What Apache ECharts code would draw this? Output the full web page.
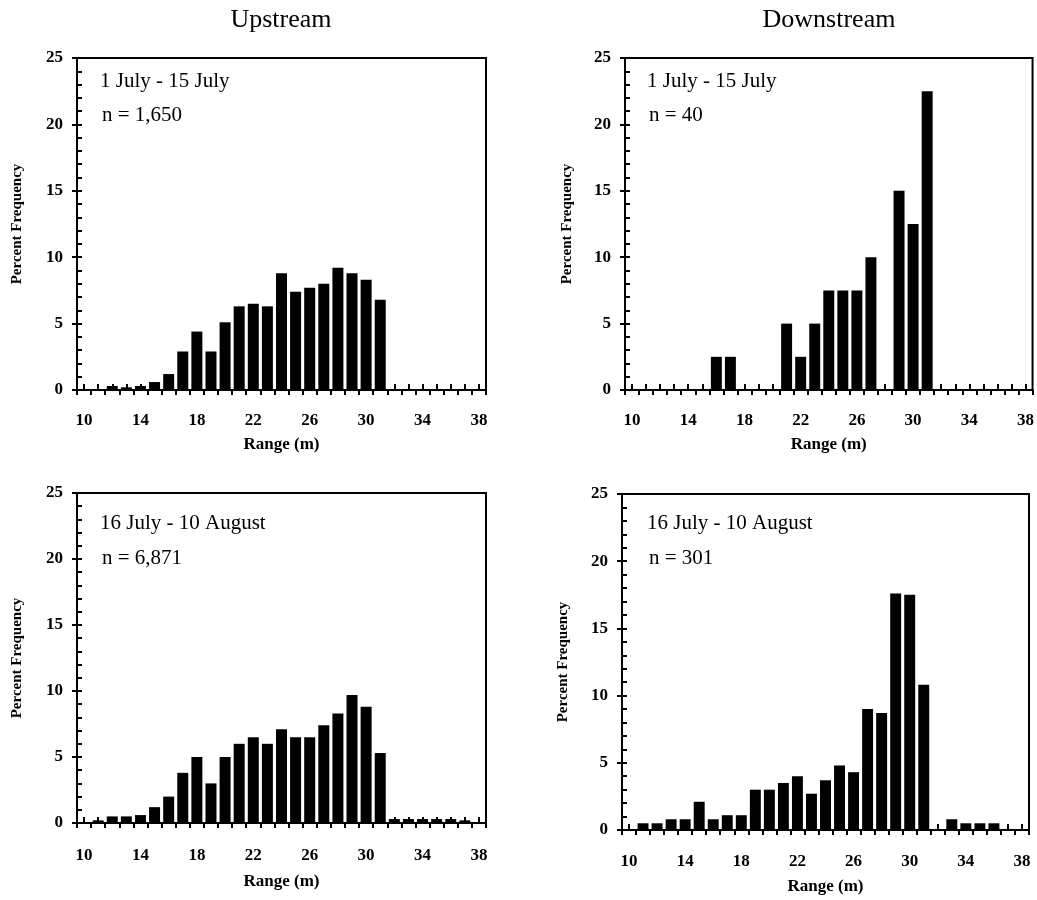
<!DOCTYPE html>
<html>
<head>
<meta charset="utf-8">
<script src="https://cdn.jsdelivr.net/npm/echarts@6/dist/echarts.min.js"></script>
<style>
html,body{margin:0;padding:0;background:#fff}
#c{width:1037px;height:900px}
</style>
</head>
<body>
<div id="c"></div>
<script>
// ---- data ----
const ranges = ['10','11','12','13','14','15','16','17','18','19','20','21','22','23','24','25','26','27','28','29','30','31','32','33','34','35','36','37','38'];
const columnTitles = ['Upstream', 'Downstream'];
const periods = ['1 July - 15 July', '1 July - 15 July', '16 July - 10 August', '16 July - 10 August'];
const sampleSizes = ['n = 1,650', 'n = 40', 'n = 6,871', 'n = 301'];
// percent frequency per 1 m range bin, 10..38
const upstreamEarly   = [null,null,0.3,0.2,0.3,0.6,1.2,2.9,4.4,2.9,5.1,6.3,6.5,6.3,8.8,7.4,7.7,8.0,9.2,8.8,8.3,6.8,null,null,null,null,null,null,null];
const downstreamEarly = [null,null,null,null,null,null,2.5,2.5,null,null,null,5,2.5,5,7.5,7.5,7.5,10,null,15,12.5,22.5,null,null,null,null,null,null,null];
const upstreamLate    = [null,0.2,0.5,0.5,0.6,1.2,2.0,3.8,5.0,3.0,5.0,6.0,6.5,6.0,7.1,6.5,6.5,7.4,8.3,9.7,8.8,5.3,0.3,0.3,0.3,0.3,0.3,0.2,null];
const downstreamLate  = [null,0.5,0.5,0.8,0.8,2.1,0.8,1.1,1.1,3.0,3.0,3.5,4.0,2.7,3.7,4.8,4.3,9.0,8.7,17.6,17.5,10.8,null,0.8,0.5,0.5,0.5,null,null];
const yMin = 0, yMax = 25, yStep = 5;

// ---- layout ----
const serif = '"Liberation Serif", "Times New Roman", serif';
const seriesData = [upstreamEarly, downstreamEarly, upstreamLate, downstreamLate];
const layouts = [
  {left: 77,  top: 58,  width: 409, height: 332, labelMargin: 22, nameGap: 46, yNameGap: 52, textX: 100, textY1: 81,  textY2: 115},
  {left: 625, top: 58,  width: 409, height: 332, labelMargin: 22, nameGap: 46, yNameGap: 50, textX: 647, textY1: 81,  textY2: 115},
  {left: 77,  top: 493, width: 409, height: 330, labelMargin: 24, nameGap: 50, yNameGap: 52, textX: 100, textY1: 523, textY2: 558},
  {left: 622, top: 494, width: 407, height: 336, labelMargin: 23, nameGap: 48, yNameGap: 51, textX: 647, textY1: 523, textY2: 558}
];

const grid = [], xAxis = [], yAxis = [], series = [], graphic = [];
const black = '#000';
layouts.forEach((L, i) => {
  grid.push({left: L.left, top: L.top, width: L.width, height: L.height, show: true,
             borderColor: black, borderWidth: 2, backgroundColor: 'transparent'});
  // main category axis: labels + inward ticks at bin centres
  xAxis.push({
    type: 'category', gridIndex: i, data: ranges, position: 'bottom', boundaryGap: true,
    axisLine: {show: true, lineStyle: {color: black, width: 2}},
    axisTick: {show: true, inside: true, alignWithLabel: true, interval: 0, length: 6, lineStyle: {color: black, width: 2}},
    axisLabel: {interval: 3, margin: L.labelMargin, color: black, fontFamily: serif, fontWeight: 'bold', fontSize: 17},
    splitLine: {show: false},
    name: 'Range (m)', nameLocation: 'middle', nameGap: L.nameGap,
    nameTextStyle: {color: black, fontFamily: serif, fontWeight: 'bold', fontSize: 17}
  });
  // helper axis: outward ticks at bin edges
  xAxis.push({
    type: 'category', gridIndex: i, data: ranges, position: 'bottom', boundaryGap: true,
    axisLine: {show: false},
    axisTick: {show: true, inside: false, interval: 0, length: 5, lineStyle: {color: black, width: 2}},
    axisLabel: {show: false}, splitLine: {show: false}
  });
  yAxis.push({
    type: 'value', gridIndex: i, min: yMin, max: yMax, interval: yStep, position: 'left',
    axisLine: {show: true, lineStyle: {color: black, width: 2}},
    axisTick: {show: true, inside: true, length: 5, lineStyle: {color: black, width: 2}},
    minorTick: {show: true, splitNumber: 5, length: 5, lineStyle: {color: black, width: 2}},
    axisLabel: {margin: 14, color: black, fontFamily: serif, fontWeight: 'bold', fontSize: 17},
    splitLine: {show: false}, minorSplitLine: {show: false},
    name: 'Percent Frequency', nameLocation: 'middle', nameGap: L.yNameGap,
    nameTextStyle: {color: black, fontFamily: serif, fontWeight: 'bold', fontSize: 15}
  });
  yAxis.push({
    type: 'value', gridIndex: i, min: yMin, max: yMax, interval: yStep, position: 'left',
    axisLine: {show: false},
    axisTick: {show: true, inside: false, length: 5, lineStyle: {color: black, width: 2}},
    axisLabel: {show: false}, splitLine: {show: false}
  });
  series.push({
    type: 'bar', xAxisIndex: 2 * i, yAxisIndex: 2 * i, data: seriesData[i],
    barWidth: '78%', itemStyle: {color: black}, silent: true, animation: false
  });
  graphic.push({type: 'text', x: L.textX, y: L.textY1,
    style: {text: periods[i], font: '21px ' + serif, fill: black, align: 'left', verticalAlign: 'middle'}});
  graphic.push({type: 'text', x: L.textX + 2, y: L.textY2,
    style: {text: sampleSizes[i], font: '21px ' + serif, fill: black, align: 'left', verticalAlign: 'middle'}});
});
graphic.push({type: 'text', x: 281, y: 20,
  style: {text: columnTitles[0], font: '26px ' + serif, fill: black, align: 'center', verticalAlign: 'middle'}});
graphic.push({type: 'text', x: 829, y: 20,
  style: {text: columnTitles[1], font: '26px ' + serif, fill: black, align: 'center', verticalAlign: 'middle'}});

const chart = echarts.init(document.getElementById('c'), null, {renderer: 'canvas'});
chart.setOption({backgroundColor: '#fff', animation: false, grid, xAxis, yAxis, series, graphic});
</script>
</body>
</html>
